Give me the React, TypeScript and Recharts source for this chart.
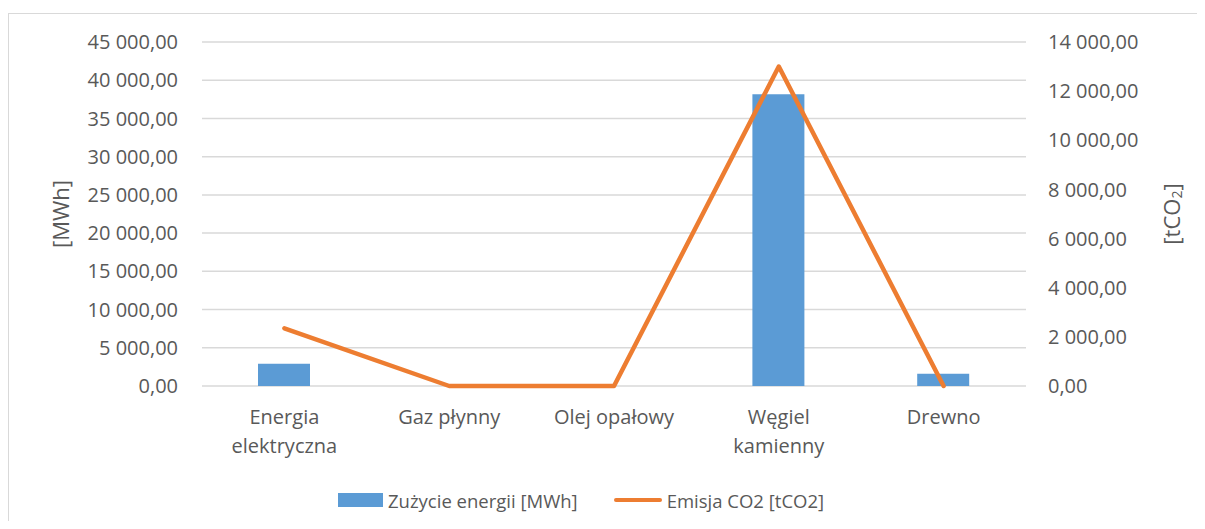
import React from "react";
import {
  Bar,
  CartesianGrid,
  ComposedChart,
  Legend,
  Line,
  XAxis,
  YAxis,
} from "recharts";

const categories = [
  "Energia elektryczna",
  "Gaz płynny",
  "Olej opałowy",
  "Węgiel kamienny",
  "Drewno",
];
const energyMWh = [2900, 0, 0, 38150, 1600];
const emissionCO2 = [2350, 0, 0, 13000, 0];

const leftTicks = [0, 5000, 10000, 15000, 20000, 25000, 30000, 35000, 40000, 45000];
const rightTicks = [0, 2000, 4000, 6000, 8000, 10000, 12000, 14000];

const TEXT = "#595959";
const GRID = "#D9D9D9";
const BLUE = "#5B9BD5";
const ORANGE = "#ED7D31";
const FONT = "'Open Sans', sans-serif";

const data = categories.map((name, i) => ({
  name,
  energy: energyMWh[i],
  co2: emissionCO2[i],
}));

function formatPl(value: number) {
  const [int, dec] = value.toFixed(2).split(".");
  return `${int.replace(/\B(?=(\d{3})+(?!\d))/g, " ")},${dec}`;
}

function CategoryTick({ x, y, payload }: any) {
  const label: string = payload.value;
  const lines = label.length > 12 ? label.split(" ") : [label];
  return (
    <text x={x} y={y} textAnchor="middle" fill={TEXT} fontSize={20} fontFamily={FONT}>
      {lines.map((line, i) => (
        <tspan key={i} x={x} dy={i === 0 ? 38 : 29}>
          {line}
        </tspan>
      ))}
    </text>
  );
}

function LeftTitle({ viewBox }: any) {
  const cx = viewBox.x + 52;
  const cy = viewBox.y + viewBox.height / 2;
  return (
    <text
      x={cx}
      y={cy}
      transform={`rotate(-90 ${cx} ${cy})`}
      textAnchor="middle"
      dominantBaseline="central"
      fill={TEXT}
      fontSize={22}
      fontFamily={FONT}
    >
      [MWh]
    </text>
  );
}

function RightTitle({ viewBox }: any) {
  const cx = viewBox.x + 145;
  const cy = viewBox.y + viewBox.height / 2;
  return (
    <text
      x={cx}
      y={cy}
      transform={`rotate(-90 ${cx} ${cy})`}
      textAnchor="middle"
      dominantBaseline="central"
      fill={TEXT}
      fontSize={22}
      fontFamily={FONT}
    >
      <tspan>[tCO</tspan>
      <tspan fontSize={14} dy={5}>2</tspan>
      <tspan dy={-5}>]</tspan>
    </text>
  );
}

function ChartLegend() {
  return (
    <div
      style={{
        height: 30,
        display: "flex",
        alignItems: "center",
        paddingLeft: 330,
        fontFamily: FONT,
        fontSize: 18.5,
        color: TEXT,
      }}
    >
      <span style={{ width: 45, height: 14, background: BLUE, marginRight: 5 }} />
      <span style={{ marginRight: 36 }}>Zużycie energii [MWh]</span>
      <span
        style={{ width: 48, height: 4, borderRadius: 2, background: ORANGE, marginRight: 5 }}
      />
      <span>Emisja CO2 [tCO2]</span>
    </div>
  );
}

export default function App() {
  return (
    <div style={{ position: "relative", width: 1189, height: 513 }}>
      <div
        style={{
          position: "absolute",
          left: 0,
          top: 5,
          width: 1197,
          height: 508,
          borderTop: `1px solid ${GRID}`,
          borderLeft: `1px solid ${GRID}`,
          boxSizing: "border-box",
        }}
      />
      <div style={{ position: "absolute", left: 0, top: 5 }}>
        <ComposedChart
          width={1189}
          height={505}
          data={data}
          margin={{ top: 29, right: 0, left: 0, bottom: 12 }}
        >
          <CartesianGrid yAxisId="left" vertical={false} stroke={GRID} strokeWidth={1.5} />
          <XAxis
            dataKey="name"
            axisLine={false}
            tickLine={false}
            tickSize={0}
            tickMargin={0}
            height={90}
            interval={0}
            tick={<CategoryTick />}
          />
          <YAxis
            yAxisId="left"
            domain={[0, 45000]}
            ticks={leftTicks}
            axisLine={false}
            tickLine={false}
            tickSize={0}
            tickMargin={24}
            width={194}
            tickFormatter={formatPl}
            tick={{ fill: TEXT, fontSize: 20, fontFamily: FONT }}
            label={<LeftTitle />}
          />
          <YAxis
            yAxisId="right"
            orientation="right"
            domain={[0, 14000]}
            ticks={rightTicks}
            axisLine={false}
            tickLine={false}
            tickSize={0}
            tickMargin={22}
            width={171}
            tickFormatter={formatPl}
            tick={{ fill: TEXT, fontSize: 20, fontFamily: FONT, textAnchor: "start" }}
            label={<RightTitle />}
          />
          <Legend
            verticalAlign="bottom"
            content={<ChartLegend />}
            wrapperStyle={{ top: 472, left: 0, width: 1189 }}
          />
          <Bar
            yAxisId="left"
            dataKey="energy"
            name="Zużycie energii [MWh]"
            fill={BLUE}
            barSize={52}
            isAnimationActive={false}
          />
          <Line
            yAxisId="right"
            type="linear"
            dataKey="co2"
            name="Emisja CO2 [tCO2]"
            stroke={ORANGE}
            strokeWidth={4.5}
            strokeLinecap="round"
            strokeLinejoin="round"
            dot={false}
            activeDot={false}
            isAnimationActive={false}
          />
        </ComposedChart>
      </div>
    </div>
  );
}
